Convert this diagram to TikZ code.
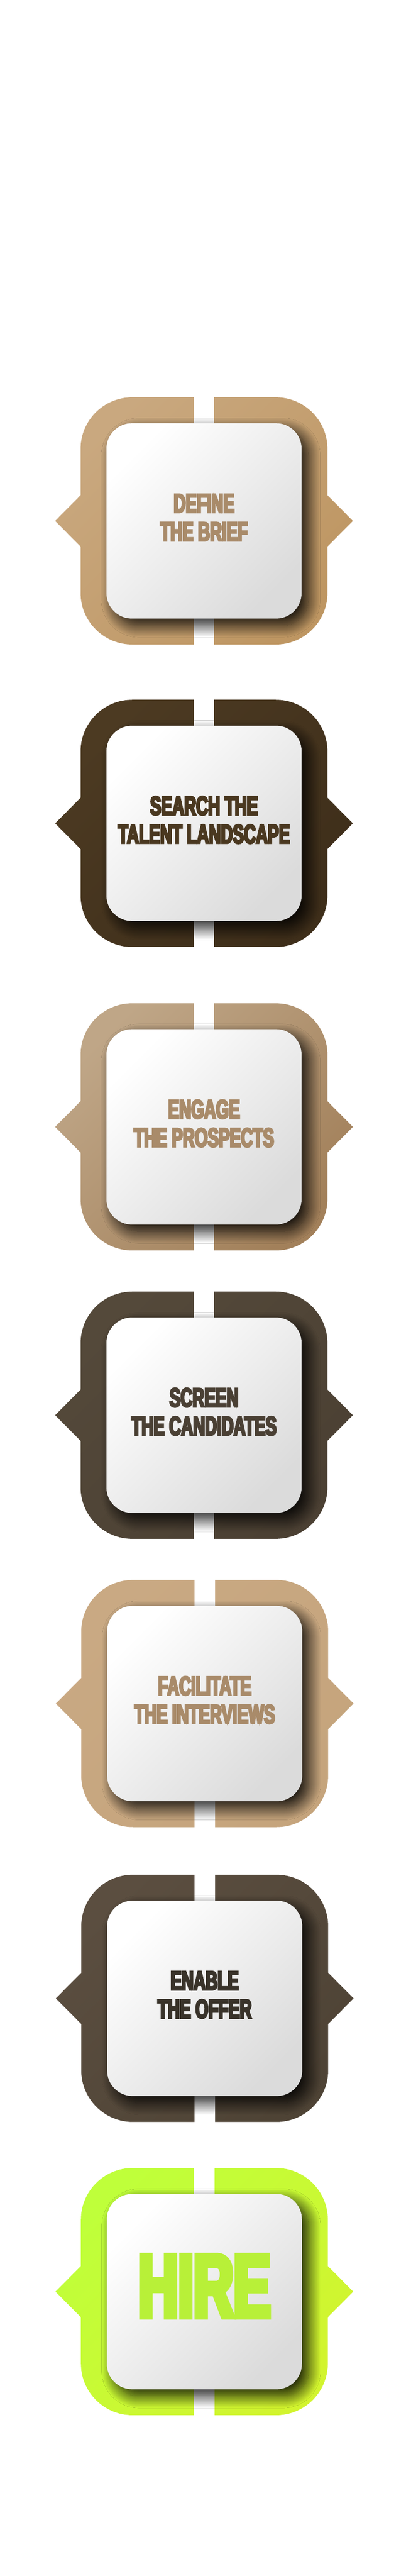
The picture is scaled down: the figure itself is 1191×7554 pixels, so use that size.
\documentclass[tikz,border=0pt]{standalone}
\usepackage{fontspec}
\usetikzlibrary{shadows.blur}

\newfontfamily\stepfont{Liberation Sans Bold}[FakeStretch=0.62,FakeBold=6]

\definecolor{briefA}{HTML}{C9A87F}
\definecolor{briefB}{HTML}{BE9662}
\definecolor{searchA}{HTML}{4C3A22}
\definecolor{searchB}{HTML}{3E2E1A}
\definecolor{engageA}{HTML}{BFA687}
\definecolor{engageB}{HTML}{A2805A}
\definecolor{screenA}{HTML}{54493A}
\definecolor{screenB}{HTML}{4B4033}
\definecolor{facilA}{HTML}{C9A983}
\definecolor{facilB}{HTML}{C5A47C}
\definecolor{enableA}{HTML}{5B4E40}
\definecolor{enableB}{HTML}{4E4335}
\definecolor{hireA}{HTML}{BFFF3A}
\definecolor{hireB}{HTML}{D2F42E}
\definecolor{tanText}{HTML}{A98B6A}
\definecolor{searchText}{HTML}{4A3820}
\definecolor{screenText}{HTML}{4A4034}
\definecolor{enableText}{HTML}{39332A}
\definecolor{hireText}{HTML}{B8F038}

\tikzset{
  stepcard/.style={rectangle, rounded corners=75pt, minimum width=573pt,
    minimum height=573pt, inner sep=0pt, top color=white, bottom color=black!14,
    shading angle=45,
    blur shadow={shadow xshift=20pt, shadow yshift=-20pt,
      shadow blur radius=35pt, shadow opacity=90, shadow blur steps=24}},
  steptext/.style={align=center, inner sep=0pt,
    font=\stepfont\fontsize{78.5}{83}\selectfont}
}

% one step: name, centre, frame colours, text colour, text, text shift
\newcommand{\recruitstep}[7]{%
  \begin{scope}[shift={(#2)}]
    % frame with the two side points
    \shade[top color=#3, bottom color=#4, shading angle=45]
      (-362.5,210.5) arc[start angle=180, end angle=90, radius=152]
      -- (210.5,362.5) arc[start angle=90, end angle=0, radius=152]
      -- (362.5,75) -- (437,0) -- (362.5,-75)
      -- (362.5,-210.5) arc[start angle=0, end angle=-90, radius=152]
      -- (-210.5,-362.5) arc[start angle=-90, end angle=-180, radius=152]
      -- (-362.5,-75) -- (-437,0) -- (-362.5,75) -- cycle;
    % split in the frame
    \fill[white] (-30,364) rectangle (30,280);
    \fill[white] (-30,-280) rectangle (30,-364);
    \node[stepcard] (card#1) at (0,0) {};
    \node[steptext, text=#5] (text#1) at (0,#7) {#6};
  \end{scope}}

\begin{document}
\begin{tikzpicture}[x=1pt, y=1pt]
    \fill[white] (0,0) rectangle (1191,-7554);
    \useasboundingbox (0,0) rectangle (1191,-7554);

    \recruitstep{brief}{599,-1527.5}{briefA}{briefB}{tanText}{DEFINE\\THE BRIEF}{10}
    \recruitstep{search}{599,-2414.5}{searchA}{searchB}{searchText}{SEARCH THE\\TALENT LANDSCAPE}{10}
    \recruitstep{engage}{599,-3304.5}{engageA}{engageB}{tanText}{ENGAGE\\THE PROSPECTS}{10}
    \recruitstep{screen}{599,-4150}{screenA}{screenB}{screenText}{SCREEN\\THE CANDIDATES}{10}
    \recruitstep{facil}{601,-4995.5}{facilA}{facilB}{tanText}{FACILITATE\\THE INTERVIEWS}{10}
    \recruitstep{enable}{601,-5860}{enableA}{enableB}{enableText}{ENABLE\\THE OFFER}{10}
    \recruitstep{hire}{600,-6720}{hireA}{hireB}{hireText}{\fontsize{262}{262}\selectfont HIRE}{16}
\end{tikzpicture}
\end{document}
